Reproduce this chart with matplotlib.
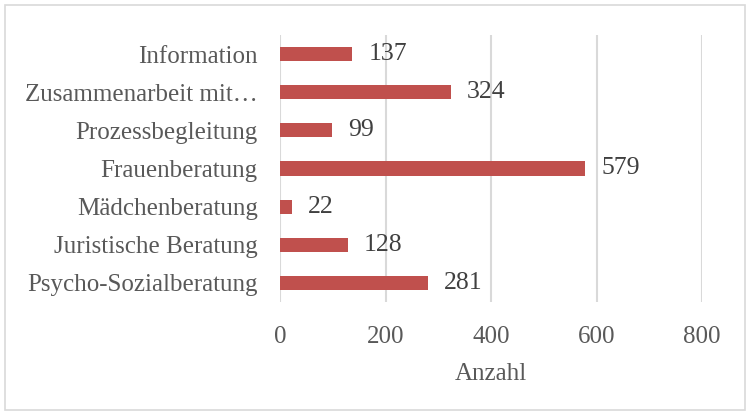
import numpy as np
import matplotlib.pyplot as plt
from matplotlib.patches import Rectangle

categories = ['Information', 'Zusammenarbeit mit…', 'Prozessbegleitung', 'Frauenberatung',
              'Mädchenberatung', 'Juristische Beratung', 'Psycho-Sozialberatung']
values = [137, 324, 99, 579, 22, 128, 281]
xticks = [0, 200, 400, 600, 800]

plt.rcParams['font.family'] = ['Liberation Serif', 'DejaVu Serif']
grey = '#595959'

fig = plt.figure(figsize=(7.46, 4.13), dpi=100)
fig.patches.append(Rectangle((5/746, 3/413), 740/746, 405/413, transform=fig.transFigure,
                             fill=False, edgecolor='#D9D9D9', linewidth=1.2))
ax = fig.add_axes([280/746, 1-302/413, 422/746, 267/413])

y = np.arange(len(categories))
ax.barh(y, values, height=0.37, color='#C0504D', zorder=3)
for yi, v in zip(y, values):
    ax.text(v + 16*800/422, yi, str(v), va='center', ha='left', fontsize=18.5, color='#404040')

ax.set_yticks(y)
ax.set_yticklabels(categories)
ax.set_ylim(len(categories)-0.5, -0.5)
ax.set_xlim(0, 800)
ax.set_xticks(xticks)
ax.xaxis.grid(True, color='#D9D9D9', linewidth=1.5, zorder=0)
for s in ax.spines.values():
    s.set_visible(False)
ax.tick_params(axis='both', length=0, labelsize=18, labelcolor=grey)
ax.tick_params(axis='x', pad=17)
ax.tick_params(axis='y', pad=16)
ax.set_xlabel('Anzahl', fontsize=18, color=grey, labelpad=11)

fig.savefig('out.png', dpi=100)
